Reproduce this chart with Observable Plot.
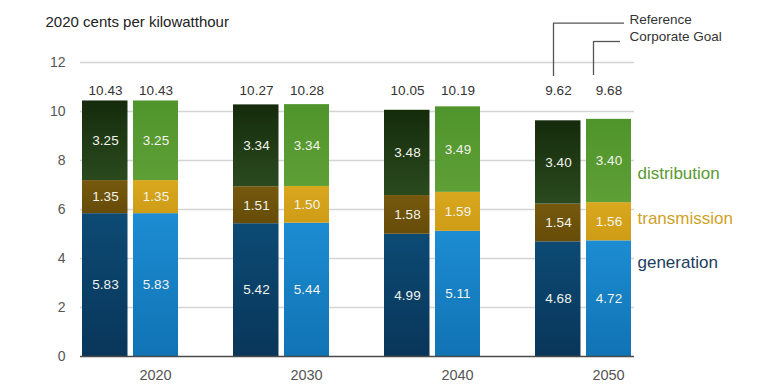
<!DOCTYPE html>
<html><head><meta charset="utf-8">
<script src="https://cdn.jsdelivr.net/npm/d3@7"></script>
<script src="https://cdn.jsdelivr.net/npm/@observablehq/plot@0.6"></script>
<style>
html,body{margin:0;padding:0;background:#fff;}
#chart svg{display:block;}
</style>
</head><body><div id="chart"></div>
<script>
// ---- data ----
const years = ["2020", "2030", "2040", "2050"];
const components = ["generation", "transmission", "distribution"];
const scenarios = ["Reference", "Corporate Goal"];
const refGeneration   = [5.83, 5.42, 4.99, 4.68];
const refTransmission = [1.35, 1.51, 1.58, 1.54];
const refDistribution = [3.25, 3.34, 3.48, 3.40];
const refTotal        = [10.43, 10.27, 10.05, 9.62];
const corpGeneration   = [5.83, 5.44, 5.11, 4.72];
const corpTransmission = [1.35, 1.50, 1.59, 1.56];
const corpDistribution = [3.25, 3.34, 3.49, 3.40];
const corpTotal        = [10.43, 10.28, 10.19, 9.68];
const yTicks = [0, 2, 4, 6, 8, 10, 12];
const unitLabel = "2020 cents per kilowatthour";

// ---- tables ----
const seriesBy = {
  "Reference": [refGeneration, refTransmission, refDistribution],
  "Corporate Goal": [corpGeneration, corpTransmission, corpDistribution]
};
const rows = [];
for (const s of scenarios) {
  years.forEach((year, i) => {
    components.forEach((c, j) => rows.push({year, scenario: s, component: c, key: s + "|" + c, value: seriesBy[s][j][i]}));
  });
}
const refRows = rows.filter(d => d.scenario === "Reference");
const corpRows = rows.filter(d => d.scenario === "Corporate Goal");
const refTotals = years.map((year, i) => ({year, total: refTotal[i]}));
const corpTotals = years.map((year, i) => ({year, total: corpTotal[i]}));

// ---- gradient fills ----
const gradients = [
  ["Reference|generation", "#0c4a74", "#09365a"],
  ["Reference|transmission", "#76590d", "#664c09"],
  ["Reference|distribution", "#152b0c", "#2a4a1e"],
  ["Corporate Goal|generation", "#1d8cd2", "#1073b4"],
  ["Corporate Goal|transmission", "#d9a81e", "#cf9c16"],
  ["Corporate Goal|distribution", "#4f952b", "#5e9f36"]
];
const gid = k => "grad-" + k.replace(/[^a-z]/gi, "");
function gradientDefs() {
  const ns = "http://www.w3.org/2000/svg";
  const defs = document.createElementNS(ns, "defs");
  for (const [k, top, bottom] of gradients) {
    const g = document.createElementNS(ns, "linearGradient");
    g.setAttribute("id", gid(k));
    g.setAttribute("x1", "0"); g.setAttribute("y1", "0");
    g.setAttribute("x2", "0"); g.setAttribute("y2", "1");
    for (const [off, col] of [["0", top], ["1", bottom]]) {
      const st = document.createElementNS(ns, "stop");
      st.setAttribute("offset", off);
      st.setAttribute("stop-color", col);
      g.appendChild(st);
    }
    defs.appendChild(g);
  }
  return defs;
}

const font = "'Liberation Sans', Arial, sans-serif";
const segText = d => d.value.toFixed(2);

const chart = Plot.plot({
  width: 762,
  height: 385,
  marginTop: 62,
  marginBottom: 29,
  marginLeft: 80,
  marginRight: 128,
  style: {fontFamily: font, background: "#fff", overflow: "visible"},
  x: {domain: years, paddingInner: 0.364, paddingOuter: 0.01, axis: null},
  y: {domain: [0, 12], axis: null},
  color: {type: "ordinal", domain: gradients.map(g => g[0]), range: gradients.map(g => `url(#${gid(g[0])})`)},
  marks: [
    gradientDefs,
    Plot.ruleY(yTicks.filter(t => t > 0), {stroke: "#d4d4d4", strokeWidth: 1.3}),
    Plot.axisY({ticks: yTicks, tickSize: 0, tickPadding: 15, fontSize: 14, fill: "#555", label: null}),
    Plot.axisX({tickSize: 0, tickPadding: 13, fontSize: 14.5, fill: "#555", dx: 25, label: null}),
    Plot.barY(refRows, {x: "year", y: "value", z: "component", fill: "key", insetRight: 50.5}),
    Plot.barY(corpRows, {x: "year", y: "value", z: "component", fill: "key", insetLeft: 51}),
    Plot.text(refRows, Plot.stackY({x: "year", y: "value", z: "component", text: segText, dx: -25, fill: "#f1f3ec", fontSize: 13.5})),
    Plot.text(corpRows, Plot.stackY({x: "year", y: "value", z: "component", text: segText, dx: 25.5, fill: "#f1f3ec", fontSize: 13.5})),
    Plot.text(refTotals, {x: "year", text: d => d.total.toFixed(2), frameAnchor: "top", lineAnchor: "middle", dy: 28, dx: -25, fill: "#333", fontSize: 13.5}),
    Plot.text(corpTotals, {x: "year", text: d => d.total.toFixed(2), frameAnchor: "top", lineAnchor: "middle", dy: 28, dx: 25.5, fill: "#333", fontSize: 13.5}),
    Plot.ruleY([0], {stroke: "#4a4a4a", strokeWidth: 1.6}),
    // unit label
    Plot.text([unitLabel], {frameAnchor: "top-left", lineAnchor: "middle", textAnchor: "start", dx: -35, dy: -40, fontSize: 15, fill: "#222"}),
    // scenario legend with leader lines to the 2050 bars
    Plot.ruleX([years[3]], {x: d => d, dx: -30, insetTop: -39.3, insetBottom: 280, stroke: "#555", strokeWidth: 1.3}),
    Plot.ruleX([years[3]], {x: d => d, dx: 10, insetTop: -21, insetBottom: 281, stroke: "#555", strokeWidth: 1.3}),
    Plot.ruleY([yTicks[yTicks.length - 1]], {dy: -39.3, insetLeft: 473.5, insetRight: 10, stroke: "#555", strokeWidth: 1.3}),
    Plot.ruleY([yTicks[yTicks.length - 1]], {dy: -21, insetLeft: 513.5, insetRight: 14, stroke: "#555", strokeWidth: 1.3}),
    Plot.text([scenarios[0]], {frameAnchor: "top-right", lineAnchor: "middle", textAnchor: "start", dx: -5, dy: -43, fontSize: 13.5, fill: "#333"}),
    Plot.text([scenarios[1]], {frameAnchor: "top-right", lineAnchor: "middle", textAnchor: "start", dx: -5, dy: -26, fontSize: 13.5, fill: "#333"}),
    // component labels
    Plot.text([components[2]], {frameAnchor: "top-right", lineAnchor: "middle", textAnchor: "start", dx: 3, dy: 111, fontSize: 17, fill: "#5a9a32"}),
    Plot.text([components[1]], {frameAnchor: "top-right", lineAnchor: "middle", textAnchor: "start", dx: 3, dy: 156, fontSize: 17, fill: "#cfa228"}),
    Plot.text([components[0]], {frameAnchor: "top-right", lineAnchor: "middle", textAnchor: "start", dx: 3, dy: 200, fontSize: 17, fill: "#1d3d5c"})
  ]
});
document.getElementById("chart").appendChild(chart);
</script>
</body></html>
